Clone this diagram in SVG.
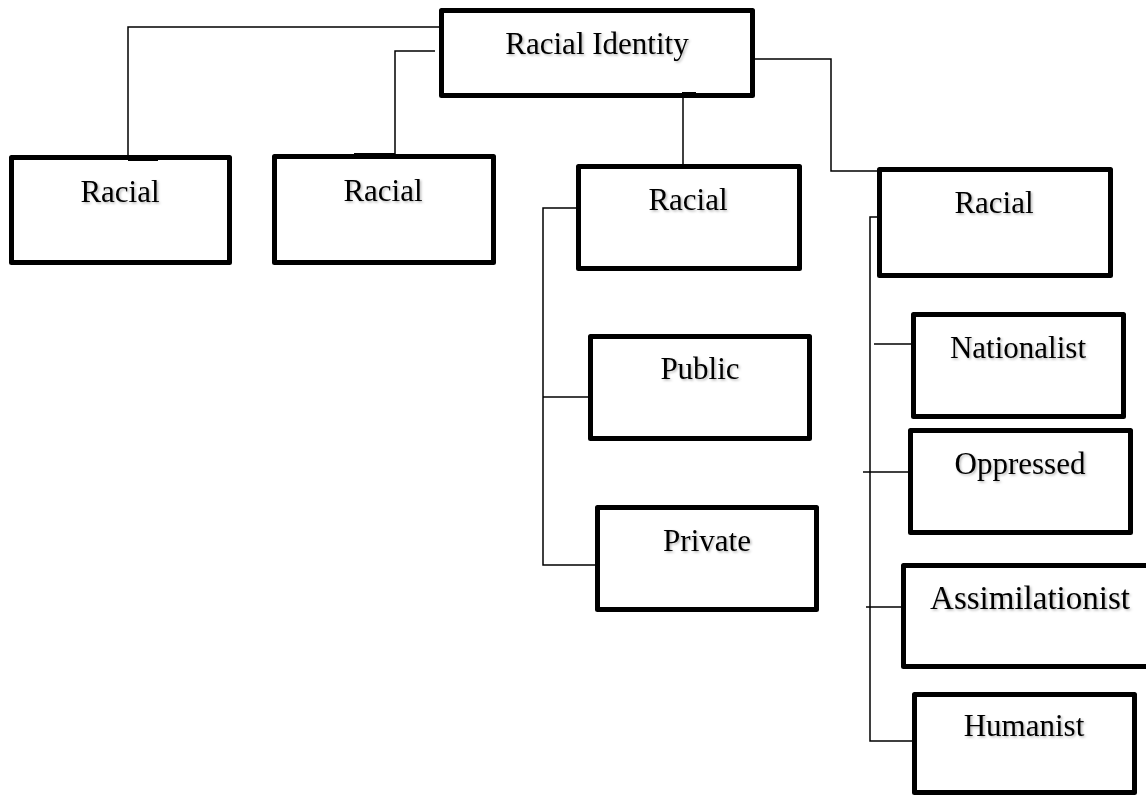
<svg xmlns="http://www.w3.org/2000/svg" width="1146" height="797" viewBox="0 0 1146 797">
  <defs>
    <filter id="sh" x="-10%" y="-30%" width="120%" height="160%">
      <feDropShadow dx="1.5" dy="1.5" stdDeviation="1" flood-color="#000" flood-opacity="0.28"/>
    </filter>
  </defs>
  <style>
    .box { fill: #fff; stroke: #000; stroke-width: 5; stroke-linejoin: round; }
    .lbl { font-family: "Liberation Serif", "Times New Roman", serif; font-size: 31px; fill: #000; text-anchor: middle; filter: url(#sh); }
    .ln { fill: none; stroke: #000; stroke-width: 1.5; }
    .bar { fill: #000; }
  </style>
  <rect width="1146" height="797" fill="#fff"/>

  <g id="connectors">
    <path class="ln" d="M440,27 H128 V157"/>
    <path class="ln" d="M435,51 H395 V155"/>
    <path class="ln" d="M683,94 V164"/>
    <path class="ln" d="M755,59 H831 V171 H877"/>
    <path class="ln" d="M576,208 H543 V565 H596"/>
    <path class="ln" d="M543,397 H588"/>
    <path class="ln" d="M877,217 H870 V741 H912"/>
    <path class="ln" d="M874,344 H911"/>
    <path class="ln" d="M863,472 H908"/>
    <path class="ln" d="M866,607 H901"/>
  </g>

  <g id="root">
    <rect class="box" x="441.5" y="10.5" width="311" height="85"/>
    <text class="lbl" x="597" y="54">Racial Identity</text>
  </g>
  <g id="racial1">
    <rect class="box" x="11.5" y="157.5" width="218" height="105"/>
    <text class="lbl" x="120" y="202">Racial</text>
  </g>
  <g id="racial2">
    <rect class="box" x="274.5" y="156.5" width="219" height="106"/>
    <text class="lbl" x="383" y="201">Racial</text>
  </g>
  <g id="racial3">
    <rect class="box" x="578.5" y="166.5" width="221" height="102"/>
    <text class="lbl" x="688" y="210">Racial</text>
  </g>
  <g id="public">
    <rect class="box" x="590.5" y="336.5" width="219" height="102"/>
    <text class="lbl" x="700" y="379">Public</text>
  </g>
  <g id="private">
    <rect class="box" x="597.5" y="507.5" width="219" height="102"/>
    <text class="lbl" x="707" y="551">Private</text>
  </g>
  <g id="racial4">
    <rect class="box" x="879.5" y="169.5" width="231" height="106"/>
    <text class="lbl" x="994" y="213">Racial</text>
  </g>
  <g id="nationalist">
    <rect class="box" x="913.5" y="314.5" width="210" height="102"/>
    <text class="lbl" x="1018" y="358">Nationalist</text>
  </g>
  <g id="oppressed">
    <rect class="box" x="910.5" y="430.5" width="220" height="102"/>
    <text class="lbl" x="1020" y="474">Oppressed</text>
  </g>
  <g id="assimilationist">
    <rect class="box" x="903.5" y="565.5" width="250" height="101"/>
    <text class="lbl" x="1030" y="609" style="font-size:33px">Assimilationist</text>
  </g>
  <g id="humanist">
    <rect class="box" x="914.5" y="694.5" width="220" height="98"/>
    <text class="lbl" x="1024" y="736">Humanist</text>
  </g>

  <g id="marks">
    <rect class="bar" x="128" y="157" width="30" height="4"/>
    <rect class="bar" x="354" y="153" width="41" height="3"/>
    <rect class="bar" x="682" y="92" width="14" height="3"/>
  </g>
</svg>
